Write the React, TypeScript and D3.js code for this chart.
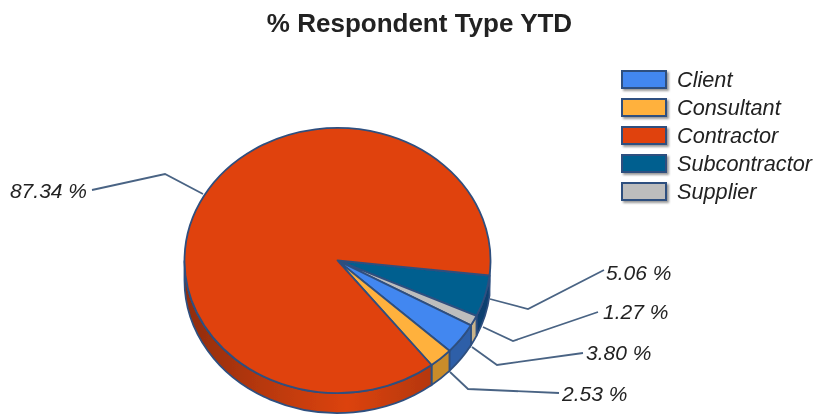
import React from "react";
import * as d3 from "d3";

const categories = ["Client", "Consultant", "Contractor", "Subcontractor", "Supplier"];
const values = [3.8, 2.53, 87.34, 5.06, 1.27];
const colors = ["#4287f0", "#ffb13d", "#e0420a", "#035f8f", "#bdbdbd"];
const sideColors = ["#2d5fa8", "#c98c2c", "url(#contractorSide)", "#0b3f70", "#c9b48a"];
const drawOrder = [3, 4, 0, 1, 2];
const labelText = ["3.80 %", "2.53 %", "87.34 %", "5.06 %", "1.27 %"];
const stroke = "#2f4f7f";
const FONT = "'Liberation Sans', Arial, sans-serif";

const cx = 337.5, cy = 260.5, rx = 153, ry = 132.5, depth = 20;
const startDeg = 6.5;

export default function App() {
  const scale = d3.scaleLinear().domain([0, d3.sum(values)]).range([startDeg, startDeg + 360]);
  let acc = 0;
  const slices = drawOrder.map((i) => {
    const a0 = scale(acc);
    acc += values[i];
    const a1 = scale(acc);
    return { i, a0, a1 };
  });
  const pt = (deg: number, dy = 0) => {
    const r = (deg * Math.PI) / 180;
    return [cx + rx * Math.cos(r), cy + ry * Math.sin(r) + dy];
  };
  const wedge = (a0: number, a1: number) => {
    const [x0, y0] = pt(a0);
    const [x1, y1] = pt(a1);
    const large = a1 - a0 > 180 ? 1 : 0;
    return `M${cx},${cy}L${x0},${y0}A${rx},${ry} 0 ${large} 1 ${x1},${y1}Z`;
  };
  const side = (a0: number, a1: number) => {
    const s = Math.max(a0, 0);
    const e = Math.min(a1, 180);
    if (e <= s) return "";
    const [x0, y0] = pt(s);
    const [x1, y1] = pt(e);
    return `M${x0},${y0}A${rx},${ry} 0 0 1 ${x1},${y1}L${x1},${y1 + depth}A${rx},${ry} 0 0 0 ${x0},${y0 + depth}Z`;
  };
  const leaders: Record<number, { pts: number[][]; tx: number; ty: number; anchor: string }> = {
    3: { pts: [[490, 299], [528, 309], [604, 270]], tx: 606, ty: 280, anchor: "start" },
    4: { pts: [[483, 327], [513, 341], [598, 312]], tx: 603, ty: 319, anchor: "start" },
    0: { pts: [[472, 347], [497, 365], [583, 353]], tx: 586, ty: 360, anchor: "start" },
    1: { pts: [[450, 372], [468, 389], [559, 393]], tx: 562, ty: 401, anchor: "start" },
    2: { pts: [[203, 194], [165, 174], [92, 190]], tx: 87, ty: 198, anchor: "end" },
  };
  const line = d3.line();
  return (
    <svg width={816} height={414} style={{ position: "absolute", left: 0, top: 0, fontFamily: FONT }}>
      <defs>
        <filter id="ls" x="-20%" y="-20%" width="150%" height="170%">
          <feDropShadow dx="2" dy="2" stdDeviation="1" floodColor="#000" floodOpacity="0.4" />
        </filter>
        <filter id="soft" x="0" y="0" width="100%" height="100%" filterUnits="userSpaceOnUse">
          <feGaussianBlur stdDeviation="0.45" />
        </filter>
        <linearGradient id="contractorSide" gradientUnits="userSpaceOnUse" x1={184} x2={431} y1={0} y2={0}>
          <stop offset="0" stopColor="#8f2c08" />
          <stop offset="0.3" stopColor="#b5370a" />
          <stop offset="0.66" stopColor="#dc430b" />
          <stop offset="1" stopColor="#b5370a" />
        </linearGradient>
      </defs>
      <g filter="url(#soft)">
        <text x={419.5} y={32} textAnchor="middle" fontSize={26} fontWeight="bold" fill="#222">% Respondent Type YTD</text>

        <path d={`M${cx - rx},${cy}A${rx},${ry} 0 0 0 ${cx + rx},${cy}L${cx + rx},${cy + depth}A${rx},${ry} 0 0 1 ${cx - rx},${cy + depth}Z`} fill={stroke} />
        {slices.map((s) => (
          <path key={"side" + s.i} d={side(s.a0, s.a1)} fill={sideColors[s.i]} stroke={stroke} strokeWidth={1.8} />
        ))}
        {slices.map((s) => {
          const l = leaders[s.i];
          return <path key={"ln" + s.i} d={line(l.pts as [number, number][])!} fill="none" stroke="#4a6484" strokeWidth={1.8} />;
        })}
        {slices.map((s) => (
          <path key={"top" + s.i} d={wedge(s.a0, s.a1)} fill={colors[s.i]} stroke={stroke} strokeWidth={1.8} strokeLinejoin="round" />
        ))}

        {slices.map((s) => {
          const l = leaders[s.i];
          return (
            <text key={"t" + s.i} x={l.tx} y={l.ty} textAnchor={l.anchor as "start" | "end"} fontSize={21} fontStyle="italic" fill="#222">{labelText[s.i]}</text>
          );
        })}

        {categories.map((c, i) => (
          <g key={c}>
            <rect x={622} y={71 + i * 28} width={44} height={17} fill={colors[i]} stroke={stroke} strokeWidth={2} filter="url(#ls)" />
            <text x={677} y={87 + i * 28} fontSize={21.7} fontStyle="italic" fill="#222">{c}</text>
          </g>
        ))}
      </g>
    </svg>
  );
}
